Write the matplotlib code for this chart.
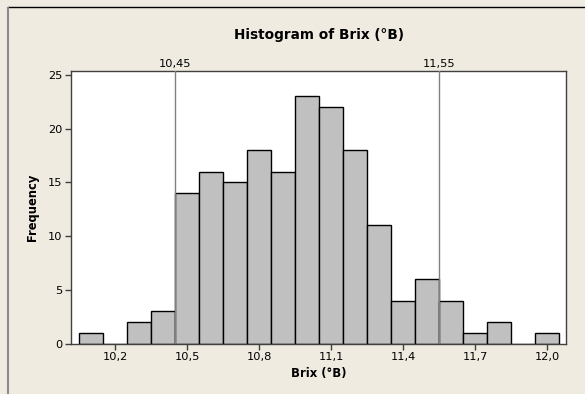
import matplotlib
matplotlib.use("Agg")
import matplotlib.pyplot as plt
from matplotlib.lines import Line2D

bin_centers = [10.1, 10.2, 10.3, 10.4, 10.5, 10.6, 10.7, 10.8, 10.9, 11.0,
               11.1, 11.2, 11.3, 11.4, 11.5, 11.6, 11.7, 11.8, 11.9, 12.0]
counts = [1, 0, 2, 3, 14, 16, 15, 18, 16, 23,
          22, 18, 11, 4, 6, 4, 1, 2, 0, 1]
x_ticks = [10.2, 10.5, 10.8, 11.1, 11.4, 11.7, 12.0]
x_tick_labels = ["10,2", "10,5", "10,8", "11,1", "11,4", "11,7", "12,0"]
y_ticks = [0, 5, 10, 15, 20, 25]
ref_values = [10.45, 11.55]
ref_labels = ["10,45", "11,55"]

W, H = 585, 394
bg = "#EFEBE1"
fig = plt.figure(figsize=(W / 100, H / 100), dpi=100, facecolor=bg)
plt.rcParams['font.family'] = ['DejaVu Sans']

L, R, T, B = 71, 566, 70.7, 343.5
ax = fig.add_axes([L / W, (H - B) / H, (R - L) / W, (B - T) / H])
ax.set_facecolor("white")

ax.bar(bin_centers, counts, width=0.1, color="#C0C0C0", edgecolor="black",
       linewidth=1.0, zorder=2)

ax.set_xlim(10.0167, 12.079)
ax.set_ylim(0, 25.4)
ax.set_xticks(x_ticks)
ax.set_xticklabels(x_tick_labels)
ax.set_yticks(y_ticks)
ax.tick_params(axis="both", direction="out", length=4, width=1,
               labelsize=8.2, color="#404040", pad=2)

for s in ax.spines.values():
    s.set_color("#404040")
    s.set_linewidth(1.0)

for v, lab in zip(ref_values, ref_labels):
    ax.axvline(v, color="#808080", linewidth=1.0, zorder=3)
    ax.text(v, 1.0 + 2 / (B - T), lab, transform=ax.get_xaxis_transform(),
            ha="center", va="bottom", fontsize=8.2)

fig.text((L + R) / 2 / W, 1 - 35 / H, "Histogram of Brix (°B)",
         ha="center", va="center", fontsize=9.8, fontweight="bold")
fig.text((L + R) / 2 / W, 1 - 374 / H, "Brix (°B)",
         ha="center", va="center", fontsize=8.4, fontweight="bold")
fig.text(33 / W, 1 - ((T + B) / 2) / H, "Frequency", rotation=90,
         ha="center", va="center", fontsize=8.3, fontweight="bold")

# screenshot frame lines
fig.add_artist(Line2D([8 / W, 1], [1 - 7 / H, 1 - 7 / H], color="black",
                      linewidth=1.0, transform=fig.transFigure))
fig.add_artist(Line2D([7.5 / W, 7.5 / W], [0, 1 - 8 / H], color="#8A8A8A",
                      linewidth=1.5, transform=fig.transFigure))

fig.savefig("out.png", dpi=100, facecolor=bg)
